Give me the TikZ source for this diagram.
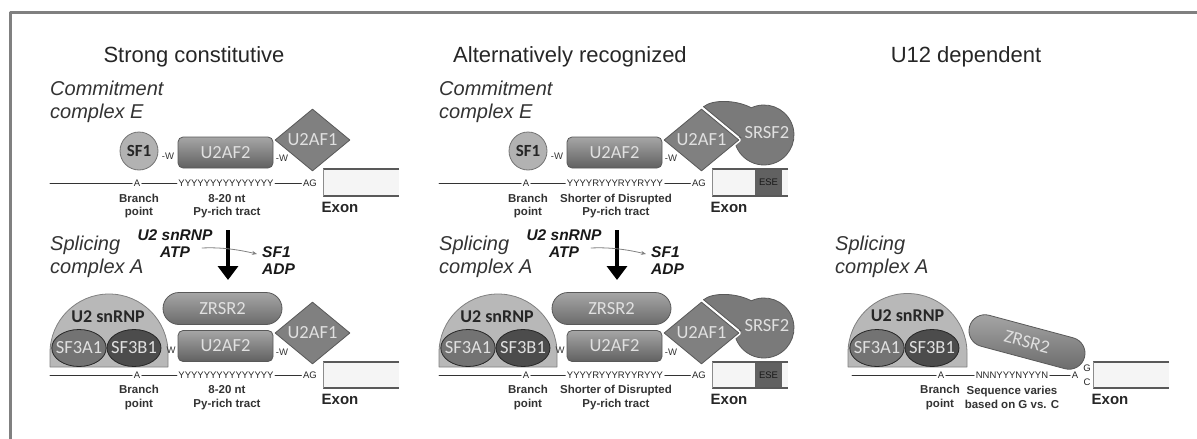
\documentclass[tikz,border=0pt]{standalone}
\usepackage{fontspec}
\setmainfont{Liberation Sans}
\newfontfamily\protfont{Carlito}
\usetikzlibrary{arrows.meta,shapes.geometric,shapes.misc}

\begin{document}
\begin{tikzpicture}[x=1pt, y=-1pt, line join=round, line cap=round,
	heading/.style={font=\fontsize{22}{26}\selectfont, text=black!85, anchor=base, inner sep=0pt},
	stage/.style={font=\fontsize{20}{23}\selectfont\itshape, text=black!80, align=left, anchor=north west, inner sep=0pt},
	cofactor/.style={font=\fontsize{15.5}{17.5}\selectfont\bfseries\itshape, text=black!90, inner sep=0pt},
	seq/.style={font=\fontsize{9.5}{10}\selectfont, text=black!85, inner sep=1.5pt},
	site/.style={font=\fontsize{11.5}{13.5}\selectfont\bfseries, text=black!80, align=center, inner sep=0pt},
	exonlab/.style={font=\fontsize{15}{18}\selectfont\bfseries, text=black!85, inner sep=0pt},
	wlink/.style={font=\fontsize{9.5}{10}\selectfont, text=black!80, inner sep=0pt},
	prot/.style={font=\protfont\fontsize{18.5}{20}\selectfont, text=black!12, inner sep=0pt, line width=0.8pt},
	sfone/.style={circle, minimum size=38, fill=black!30, draw=black!55, line width=0.8pt, inner sep=0pt, font=\protfont\bfseries\fontsize{17}{20}\selectfont, text=black!85},
	uaftwo/.style={prot, rectangle, rounded corners=5, minimum width=95, minimum height=31, top color=black!35, bottom color=black!62, draw=black!65},
	uafone/.style={prot, diamond, minimum width=75, minimum height=62, fill=black!50, draw=black!65, preaction={draw=white, line width=4pt}},
	zrsr/.style={prot, rounded rectangle, minimum width=119, minimum height=32, top color=black!35, bottom color=black!58, draw=black!65},
	sfthree/.style={prot, ellipse, inner xsep=-4pt, minimum width=54, minimum height=37, draw=black!85},
	dome/.style={fill=black!28, draw=black!50, line width=0.8pt},
	domelab/.style={font=\protfont\bfseries\fontsize{18}{20}\selectfont, text=black!85, inner sep=0pt},
	srsf/.style={fill=black!52, draw=black!65, line width=0.8pt},
	strand/.style={draw=black!80, line width=1pt},
	exonfill/.style={fill=black!4},
	exonrim/.style={draw=black!65, line width=1.5pt, line cap=butt},
	exonside/.style={draw=black!45, line width=0.8pt},
	stepdown/.style={line width=4.5pt, line cap=butt, -{Triangle[width=20pt, length=14pt]}},
	swap/.style={draw=black!50, line width=0.8pt, -{Stealth[length=5pt, width=4pt]}},
	frame/.style={draw=black!50, line width=3pt, line cap=butt}]

	\useasboundingbox (0,0) rectangle (1197,439);
	\draw[frame] (10,439) -- (10,12) -- (1197,12);

	% column titles
	\node[heading] (head strong) at (194,62) {Strong constitutive};
	\node[heading] (head alt) at (570,62) {Alternatively recognized};
	\node[heading] (head u12) at (966,62) {U12 dependent};

	% SRSF2 sits behind U2AF1 in the middle column
	\foreach \cy in {140,333}{
		\filldraw[srsf] (703.5,\cy-33.3) .. controls (713,\cy-41) and (737,\cy-40) .. (751.3,\cy-32.2)
			arc[start angle=-115, end angle=175, radius=30] -- (741,\cy-2.3) -- cycle;
		\node[prot] (srsf\cy) at (767,\cy-7) {SRSF2};
	}

	% first two columns: complex E on top, complex A below
	\foreach \dx/\p/\seq/\tractA/\tractB in {0/a/YYYYYYYYYYYYYYY/8-20 nt/Py-rich tract,
		389/b/YYYYRYYYRYYRYYY/Shorter of Disrupted/Py-rich tract}{
	\begin{scope}[xshift=\dx]
		\node[stage] (commit\p) at (50,80.5) {Commitment\\complex E};

		\node[sfone] (sf\p) at (139,151) {SF1};
		\node[wlink] (wa\p) at (168,156) {-W};
		\node[uaftwo] (uaf2\p) at (225.5,152.5) {U2AF2};
		\node[wlink] (wb\p) at (282,158) {-W};
		\node[uafone] (uaf1\p) at (312.5,140) {U2AF1};

		\coordinate (st\p) at (50,183);
		\node[seq] (bp\p) at (137,183) {A};
		\node[seq] (py\p) at (226,183) {\seq};
		\node[seq] (ag\p) at (310,183) {AG};
		\draw[strand] (st\p) -- (bp\p) -- (py\p) -- (ag\p);

		\fill[exonfill] (323,169) rectangle (399,196);
		\draw[exonrim] (399,169) -- (323,169) (323,196) -- (399,196);
		\draw[exonside] (323,169) -- (323,196);

		\node[site] (bplab\p) at (139,206) {Branch\\point};
		\node[site] (pylab\p) at (227,206) {\tractA\\\tractB};
		\node[exonlab] (ex\p) at (340,207) {Exon};

		% U2 snRNP joins, SF1 leaves
		\node[stage] (splice\p) at (50,235.5) {Splicing\\complex A};
		\node[cofactor, align=center, anchor=north] (in\p) at (175,229) {U2 snRNP\\ATP};
		\node[cofactor, align=left, anchor=north west] (out\p) at (262,246) {SF1\\ADP};
		\coordinate (dntop\p) at (228,230);
		\coordinate (dnbot\p) at (228,280);
		\draw[stepdown] (dntop\p) -- (dnbot\p);
		\coordinate (swfrom\p) at (202,248);
		\coordinate (swto\p) at (257,254);
		\draw[swap] (swfrom\p) .. controls (222,247) and (240,250) .. (swto\p);

		\draw[dome] (50,367) -- (50,353) arc[start angle=180, end angle=360, radius=59] -- (168,367) -- cycle;
		\node[domelab] (u2\p) at (108,317) {U2 snRNP};
		\node[sfthree, fill=black!55] (sfa\p) at (79,348) {SF3A1};
		\node[sfthree, fill=black!70] (sfb\p) at (134,348) {SF3B1};
		\node[wlink] (wc\p) at (171,350) {W};
		\node[zrsr] (zr\p) at (222.5,308.5) {ZRSR2};
		\node[uaftwo] (uaf2s\p) at (225.5,346) {U2AF2};
		\node[wlink] (wd\p) at (282,352) {-W};
		\node[uafone] (uaf1s\p) at (312.5,333) {U2AF1};

		\coordinate (sts\p) at (50,375);
		\node[seq] (bps\p) at (137,375) {A};
		\node[seq] (pys\p) at (226,375) {\seq};
		\node[seq] (ags\p) at (310,375) {AG};
		\draw[strand] (sts\p) -- (bps\p) -- (pys\p) -- (ags\p);

		\fill[exonfill] (323,362) rectangle (399,388);
		\draw[exonrim] (399,362) -- (323,362) (323,388) -- (399,388);
		\draw[exonside] (323,362) -- (323,388);

		\node[site] (bplabs\p) at (139,397.5) {Branch\\point};
		\node[site] (pylabs\p) at (227,397.5) {\tractA\\\tractB};
		\node[exonlab] (exs\p) at (340,399) {Exon};
	\end{scope}
	}

	% exonic splicing enhancer
	\fill[black!62] (755,169.8) rectangle (782,195.2);
	\node[seq, text=black!90] (ese top) at (768.5,182.5) {ESE};
	\fill[black!62] (755,362.8) rectangle (782,387.2);
	\node[seq, text=black!90] (ese bot) at (768.5,375) {ESE};

	% U12 column
	\node[stage] (splice u12) at (835,235.5) {Splicing\\complex A};
	\draw[dome] (848,367) -- (848,353) arc[start angle=180, end angle=360, radius=59.5] -- (967,367) -- cycle;
	\node[domelab] (u2 u12) at (907.5,316) {U2 snRNP};
	\node[sfthree, fill=black!55] (sfa u12) at (877,348) {SF3A1};
	\node[sfthree, fill=black!70] (sfb u12) at (932,348) {SF3B1};
	\node[zrsr, rotate=-15] (zr u12) at (1027,342) {ZRSR2};

	\coordinate (st u12) at (852,375);
	\node[seq] (bp u12) at (941,375) {A};
	\node[seq] (py u12) at (1012,375) {NNNYYYNYYYN};
	\node[seq] (a u12) at (1075,375) {A};
	\node[seq, inner sep=0pt] (g u12) at (1087,368) {G};
	\node[seq, inner sep=0pt] (c u12) at (1087,382) {C};
	\draw[strand] (st u12) -- (bp u12) -- (py u12) -- (a u12);

	\fill[exonfill] (1093,362) rectangle (1169,388);
	\draw[exonrim] (1169,362) -- (1093,362) (1093,388) -- (1169,388);
	\draw[exonside] (1093,362) -- (1093,388);

	\node[site] (bplab u12) at (940,397.5) {Branch\\point};
	\node[site] (pylab u12) at (1012,397.5) {Sequence varies\\based on G vs. C};
	\node[exonlab] (ex u12) at (1110,399) {Exon};
\end{tikzpicture}
\end{document}
